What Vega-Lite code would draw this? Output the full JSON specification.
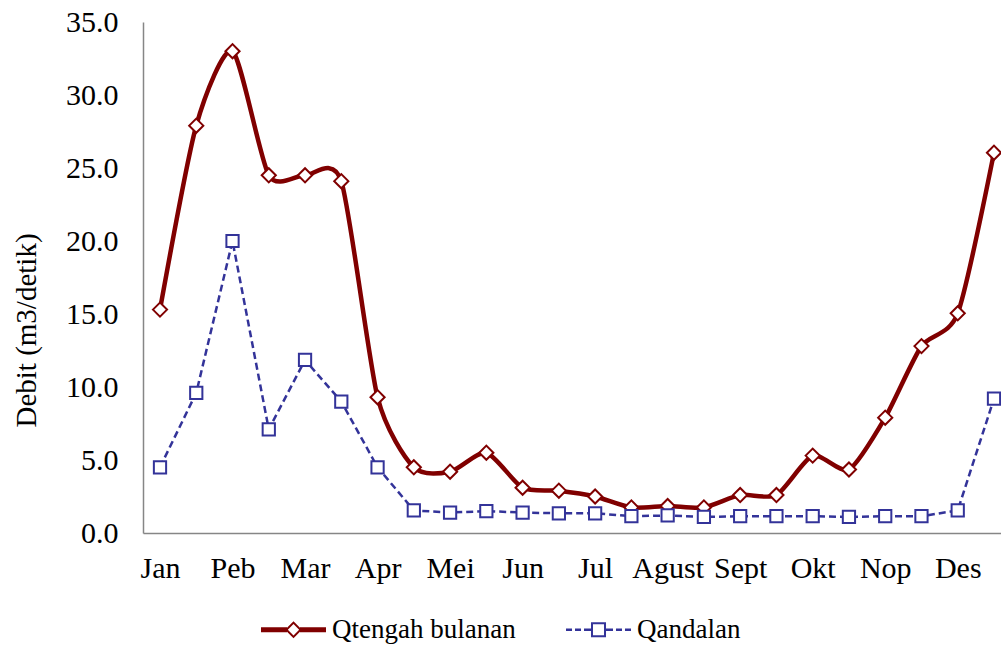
{
  "$schema": "https://vega.github.io/schema/vega-lite/v6.json",
  "width": 858,
  "height": 511,
  "autosize": {"type": "none"},
  "padding": {"left": 143, "top": 22, "right": 0, "bottom": 114},
  "background": "white",
  "config": {"view": {"stroke": null}, "font": "Liberation Serif"},
  "data": {
    "values": [
      {"p": "Jan-1", "s": "Qtengah bulanan", "v": 15.3},
      {"p": "Jan-2", "s": "Qtengah bulanan", "v": 27.9},
      {"p": "Peb-1", "s": "Qtengah bulanan", "v": 33.0},
      {"p": "Peb-2", "s": "Qtengah bulanan", "v": 24.5},
      {"p": "Mar-1", "s": "Qtengah bulanan", "v": 24.5},
      {"p": "Mar-2", "s": "Qtengah bulanan", "v": 24.1},
      {"p": "Apr-1", "s": "Qtengah bulanan", "v": 9.3},
      {"p": "Apr-2", "s": "Qtengah bulanan", "v": 4.5},
      {"p": "Mei-1", "s": "Qtengah bulanan", "v": 4.2},
      {"p": "Mei-2", "s": "Qtengah bulanan", "v": 5.5},
      {"p": "Jun-1", "s": "Qtengah bulanan", "v": 3.1},
      {"p": "Jun-2", "s": "Qtengah bulanan", "v": 2.9},
      {"p": "Jul-1", "s": "Qtengah bulanan", "v": 2.5},
      {"p": "Jul-2", "s": "Qtengah bulanan", "v": 1.75},
      {"p": "Agust-1", "s": "Qtengah bulanan", "v": 1.85},
      {"p": "Agust-2", "s": "Qtengah bulanan", "v": 1.75},
      {"p": "Sept-1", "s": "Qtengah bulanan", "v": 2.6},
      {"p": "Sept-2", "s": "Qtengah bulanan", "v": 2.6},
      {"p": "Okt-1", "s": "Qtengah bulanan", "v": 5.3},
      {"p": "Okt-2", "s": "Qtengah bulanan", "v": 4.35},
      {"p": "Nop-1", "s": "Qtengah bulanan", "v": 7.9},
      {"p": "Nop-2", "s": "Qtengah bulanan", "v": 12.8},
      {"p": "Des-1", "s": "Qtengah bulanan", "v": 15.05},
      {"p": "Des-2", "s": "Qtengah bulanan", "v": 26.05},
      {"p": "Jan-1", "s": "Qandalan", "v": 4.5},
      {"p": "Jan-2", "s": "Qandalan", "v": 9.6},
      {"p": "Peb-1", "s": "Qandalan", "v": 20.0},
      {"p": "Peb-2", "s": "Qandalan", "v": 7.1},
      {"p": "Mar-1", "s": "Qandalan", "v": 11.85},
      {"p": "Mar-2", "s": "Qandalan", "v": 9.0},
      {"p": "Apr-1", "s": "Qandalan", "v": 4.5},
      {"p": "Apr-2", "s": "Qandalan", "v": 1.55},
      {"p": "Mei-1", "s": "Qandalan", "v": 1.4},
      {"p": "Mei-2", "s": "Qandalan", "v": 1.5},
      {"p": "Jun-1", "s": "Qandalan", "v": 1.4},
      {"p": "Jun-2", "s": "Qandalan", "v": 1.35},
      {"p": "Jul-1", "s": "Qandalan", "v": 1.35},
      {"p": "Jul-2", "s": "Qandalan", "v": 1.15},
      {"p": "Agust-1", "s": "Qandalan", "v": 1.2},
      {"p": "Agust-2", "s": "Qandalan", "v": 1.1},
      {"p": "Sept-1", "s": "Qandalan", "v": 1.15},
      {"p": "Sept-2", "s": "Qandalan", "v": 1.15},
      {"p": "Okt-1", "s": "Qandalan", "v": 1.15},
      {"p": "Okt-2", "s": "Qandalan", "v": 1.1},
      {"p": "Nop-1", "s": "Qandalan", "v": 1.15},
      {"p": "Nop-2", "s": "Qandalan", "v": 1.15},
      {"p": "Des-1", "s": "Qandalan", "v": 1.55},
      {"p": "Des-2", "s": "Qandalan", "v": 9.2}
    ]
  },
  "encoding": {
    "x": {
      "field": "p",
      "type": "ordinal",
      "sort": null,
      "scale": {"type": "point", "padding": 0.331, "align": 0.708},
      "axis": {
        "title": null,
        "values": ["Jan-1", "Peb-1", "Mar-1", "Apr-1", "Mei-1", "Jun-1", "Jul-1", "Agust-1", "Sept-1", "Okt-1", "Nop-1", "Des-1"],
        "labelExpr": "split(datum.value, '-')[0]",
        "ticks": false,
        "tickSize": 0,
        "grid": false,
        "domainColor": "#868686",
        "domainWidth": 1.5,
        "labelFont": "Liberation Serif",
        "labelFontSize": 30,
        "labelColor": "black",
        "labelPadding": 44,
        "labelBaseline": "alphabetic",
        "labelAngle": 0
      }
    },
    "y": {
      "field": "v",
      "type": "quantitative",
      "scale": {"domain": [0, 35], "nice": false},
      "axis": {
        "title": "Debit (m3/detik)",
        "values": [0, 5, 10, 15, 20, 25, 30, 35],
        "format": ".1f",
        "ticks": false,
        "tickSize": 0,
        "grid": false,
        "domainColor": "#868686",
        "domainWidth": 1.5,
        "labelFont": "Liberation Serif",
        "labelFontSize": 30,
        "labelColor": "black",
        "labelPadding": 25,
        "titleFont": "Liberation Serif",
        "titleFontSize": 29,
        "titleFontWeight": "normal",
        "titleColor": "black",
        "titleX": -108,
        "titleY": 308,
        "titleBaseline": "alphabetic",
        "titleAlign": "center",
        "titleAngle": -90
      }
    }
  },
  "layer": [
    {
      "transform": [{"filter": "datum.s === 'Qtengah bulanan'"}],
      "mark": {"type": "line", "interpolate": "cardinal", "tension": 0.3, "strokeWidth": 4.5},
      "encoding": {
        "color": {
          "field": "s",
          "type": "nominal",
          "sort": null,
          "scale": {"domain": ["Qtengah bulanan", "Qandalan"], "range": ["#800000", "#333399"]},
          "legend": {
            "orient": "none",
            "legendX": 118,
            "legendY": 575,
            "direction": "horizontal",
            "columns": 2,
            "title": null,
            "padding": 0,
            "symbolSize": 4225,
            "symbolStrokeWidth": 0,
            "labelFont": "Liberation Serif",
            "labelFontSize": 27,
            "labelColor": "black",
            "labelOffset": 6,
            "labelLimit": 0,
            "columnPadding": 50,
            "encode": {
              "symbols": {
                "update": {
                  "shape": {"signal": "datum.value === 'Qtengah bulanan' ? 'M-1,-0.074L-0.2,-0.074L-0.2,0.074L-1,0.074ZM0.2,-0.074L1,-0.074L1,0.074L0.2,0.074ZM0,-0.26L0.26,0L0,0.26L-0.26,0ZM0,-0.174L-0.174,0L0,0.174L0.174,0Z' : 'M-1,-0.04L-0.815,-0.04L-0.815,0.04L-1,0.04ZM-0.723,-0.04L-0.538,-0.04L-0.538,0.04L-0.723,0.04ZM-0.446,-0.04L-0.231,-0.04L-0.231,0.04L-0.446,0.04ZM0.231,-0.04L0.446,-0.04L0.446,0.04L0.231,0.04ZM0.538,-0.04L0.723,-0.04L0.723,0.04L0.538,0.04ZM0.815,-0.04L1,-0.04L1,0.04L0.815,0.04ZM-0.231,-0.231L0.231,-0.231L0.231,0.231L-0.231,0.231ZM-0.169,-0.169L-0.169,0.169L0.169,0.169L0.169,-0.169Z'"},
                  "fill": {"signal": "datum.value === 'Qtengah bulanan' ? '#800000' : '#333399'"},
                  "stroke": {"value": "transparent"},
                  "strokeWidth": {"value": 0},
                  "size": {"value": 4225},
                  "opacity": {"value": 1}
                }
              }
            }
          }
        }
      }
    },
    {
      "transform": [{"filter": "datum.s === 'Qtengah bulanan'"}],
      "mark": {"type": "point", "shape": "diamond", "filled": true, "fill": "white", "stroke": "#800000", "strokeWidth": 2, "size": 200, "opacity": 1}
    },
    {
      "transform": [{"filter": "datum.s === 'Qandalan'"}],
      "mark": {"type": "line", "strokeWidth": 2.5, "strokeDash": [7, 4]},
      "encoding": {
        "color": {
          "field": "s",
          "type": "nominal",
          "sort": null,
          "scale": {"domain": ["Qtengah bulanan", "Qandalan"], "range": ["#800000", "#333399"]}
        }
      }
    },
    {
      "transform": [{"filter": "datum.s === 'Qandalan'"}],
      "mark": {"type": "point", "shape": "square", "filled": true, "fill": "white", "stroke": "#333399", "strokeWidth": 2, "size": 150, "opacity": 1}
    }
  ]
}
